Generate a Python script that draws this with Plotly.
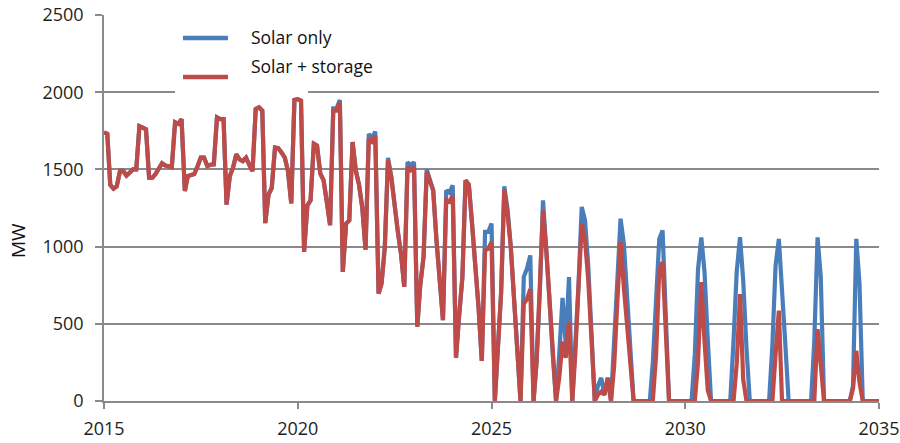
import pandas as pd
import plotly.graph_objects as go

# Monthly values, Jan 2015 .. Jan 2035 (MW)
solar_storage = [
    1740, 1730, 1400, 1375, 1390, 1490, 1490, 1460, 1480, 1500, 1500, 1780,  # 2015
    1770, 1760, 1446, 1446, 1470, 1510, 1540, 1525, 1520, 1515, 1805, 1795,  # 2016
    1826, 1360, 1457, 1467, 1470, 1520, 1576, 1576, 1522, 1530, 1533, 1837,  # 2017
    1826, 1826, 1272, 1457, 1511, 1598, 1565, 1554, 1576, 1530, 1489, 1891,  # 2018
    1902, 1880, 1152, 1337, 1380, 1641, 1637, 1610, 1576, 1489, 1280, 1950,  # 2019
    1955, 1946, 966, 1267, 1300, 1666, 1655, 1472, 1429, 1290, 1138, 1881,   # 2020
    1881, 1935, 836, 1149, 1170, 1677, 1494, 1400, 1250, 980, 1700, 1680,    # 2021
    1720, 696, 760, 998, 1560, 1450, 1250, 1100, 950, 739, 1515, 1494,       # 2022
    1515, 481, 750, 933, 1483, 1430, 1364, 1041, 800, 524, 1300, 1290,       # 2023
    1332, 280, 550, 800, 1429, 1400, 1150, 900, 600, 260, 976, 987,          # 2024
    1030, 0, 330, 700, 1366, 1214, 1000, 650, 280, 0, 630, 660,              # 2025
    725, 0, 250, 700, 1235, 980, 650, 300, 0, 150, 385, 280,                 # 2026
    510, 0, 300, 740, 1149, 1040, 790, 400, 0, 40, 60, 40,                   # 2027
    150, 0, 220, 650, 1030, 736, 500, 270, 0, 0, 0, 0,                       # 2028
    0, 0, 0, 300, 850, 900, 430, 0, 0, 0, 0, 0,                              # 2029
    0, 0, 0, 0, 250, 770, 390, 70, 0, 0, 0, 0,                               # 2030
    0, 0, 0, 0, 242, 693, 139, 0, 0, 0, 0, 0,                                # 2031
    0, 0, 0, 0, 300, 585, 0, 0, 0, 0, 0, 0,                                  # 2032
    0, 0, 0, 0, 0, 465, 234, 0, 0, 0, 0, 0,                                  # 2033
    0, 0, 0, 0, 80, 325, 120, 0, 0, 0, 0, 0,                                 # 2034
    0,                                                                       # 2035
]

solar_only = [
    1740, 1730, 1400, 1375, 1390, 1490, 1490, 1460, 1480, 1500, 1500, 1780,  # 2015
    1770, 1760, 1446, 1446, 1470, 1510, 1540, 1525, 1520, 1515, 1805, 1795,  # 2016
    1826, 1360, 1457, 1467, 1470, 1520, 1576, 1576, 1522, 1530, 1533, 1837,  # 2017
    1826, 1826, 1272, 1457, 1511, 1598, 1565, 1554, 1576, 1530, 1489, 1891,  # 2018
    1902, 1880, 1152, 1337, 1380, 1641, 1637, 1610, 1576, 1489, 1280, 1950,  # 2019
    1955, 1946, 966, 1267, 1300, 1666, 1655, 1472, 1429, 1290, 1138, 1895,   # 2020
    1895, 1950, 836, 1149, 1170, 1677, 1494, 1400, 1250, 980, 1730, 1700,    # 2021
    1745, 696, 760, 998, 1575, 1450, 1250, 1100, 950, 739, 1547, 1525,       # 2022
    1547, 481, 750, 933, 1500, 1430, 1364, 1041, 800, 524, 1364, 1350,       # 2023
    1397, 280, 550, 800, 1429, 1400, 1150, 900, 600, 260, 1095, 1095,        # 2024
    1149, 0, 330, 700, 1390, 1240, 1000, 650, 280, 0, 804, 858,              # 2025
    943, 0, 250, 700, 1300, 1000, 650, 300, 0, 300, 668, 368,                # 2026
    802, 0, 320, 760, 1257, 1170, 880, 440, 0, 100, 150, 40,                 # 2027
    150, 0, 380, 800, 1181, 1018, 700, 380, 0, 0, 0, 0,                      # 2028
    0, 0, 250, 600, 1050, 1105, 570, 0, 0, 0, 0, 0,                          # 2029
    0, 0, 0, 300, 850, 1060, 840, 400, 0, 0, 0, 0,                           # 2030
    0, 0, 0, 392, 840, 1061, 782, 342, 0, 0, 0, 0,                           # 2031
    0, 0, 0, 361, 875, 1050, 745, 368, 0, 0, 0, 0,                           # 2032
    0, 0, 0, 0, 390, 1060, 805, 0, 0, 0, 0, 0,                               # 2033
    0, 0, 0, 0, 100, 1050, 760, 0, 0, 0, 0, 0,                               # 2034
    0,                                                                       # 2035
]

months = pd.date_range("2015-01-01", periods=len(solar_only), freq="MS")
tick_years = ["2015", "2020", "2025", "2030", "2035"]
series_names = ["Solar only", "Solar + storage"]
y_ticks = [0, 500, 1000, 1500, 2000, 2500]

BLUE = "#4a7ebb"
RED = "#be4b48"
GRID = "#8a8a8a"
FONT = "Open Sans"
TXT = "#1e1e1e"

L, R, T, B = 104, 21, 15, 42
PW, PH = 900 - L - R, 443 - T - B


def px_x(x):
    return (x - L) / PW


def px_y(y):
    return 1 - (y - T) / PH


fig = go.Figure()
fig.add_trace(go.Scatter(x=months, y=solar_only, mode="lines", name=series_names[0],
                         line=dict(color=BLUE, width=4.2), showlegend=False))
fig.add_trace(go.Scatter(x=months, y=solar_storage, mode="lines", name=series_names[1],
                         line=dict(color=RED, width=4.2), showlegend=False))

fig.update_layout(
    width=900, height=443,
    margin=dict(l=L, r=R, t=T, b=B, autoexpand=False),
    paper_bgcolor="white", plot_bgcolor="white",
    font=dict(family=FONT, size=18, color=TXT),
    xaxis=dict(
        type="date",
        range=["2015-01-01", "2035-01-01"],
        tickmode="array",
        tickvals=[f"{y}-01-01" for y in tick_years],
        ticktext=tick_years,
        showgrid=False, zeroline=False,
        showline=True, linecolor=GRID, linewidth=1.5,
        ticks="outside", ticklen=6, tickcolor=GRID, tickwidth=1.5,
        tickfont=dict(family=FONT, size=18, color=TXT),
        ticklabelstandoff=5,
        automargin=False,
    ),
    yaxis=dict(
        range=[0, 2500],
        tickmode="array", tickvals=y_ticks,
        showgrid=True, gridcolor=GRID, gridwidth=1.5,
        zeroline=False,
        showline=True, linecolor=GRID, linewidth=1.5,
        ticks="outside", ticklen=7, tickcolor=GRID, tickwidth=1.5,
        tickfont=dict(family=FONT, size=18, color=TXT),
        ticklabelstandoff=8,
        automargin=False,
    ),
)

# white patches behind the legend (hide parts of gridlines)
fig.add_shape(type="rect", xref="paper", yref="paper",
              x0=px_x(228), x1=px_x(425), y0=px_y(20), y1=px_y(10),
              fillcolor="white", line_width=0, layer="above")
fig.add_shape(type="rect", xref="paper", yref="paper",
              x0=px_x(175), x1=px_x(308), y0=px_y(95), y1=px_y(89),
              fillcolor="white", line_width=0, layer="above")

# manual legend
leg_y = [38, 77]
text_y = [37, 66]
for name, col, ly, ty in zip(series_names, [BLUE, RED], leg_y, text_y):
    fig.add_shape(type="line", xref="paper", yref="paper",
                  x0=px_x(183), x1=px_x(228), y0=px_y(ly), y1=px_y(ly),
                  line=dict(color=col, width=4.5), layer="above")
    fig.add_annotation(text=name, xref="paper", yref="paper",
                       x=px_x(249), y=px_y(ty),
                       xanchor="left", yanchor="middle", showarrow=False,
                       font=dict(family=FONT, size=17.5, color="#111"))

fig.add_annotation(text="MW", xref="paper", yref="paper",
                   x=px_x(18), y=px_y(241),
                   xanchor="center", yanchor="middle", textangle=-90, showarrow=False,
                   font=dict(family=FONT, size=19, color="#111"))

fig.write_html("out.html", config={"displayModeBar": False},
               post_script="document.body.style.margin='0';document.body.style.overflow='hidden';")
